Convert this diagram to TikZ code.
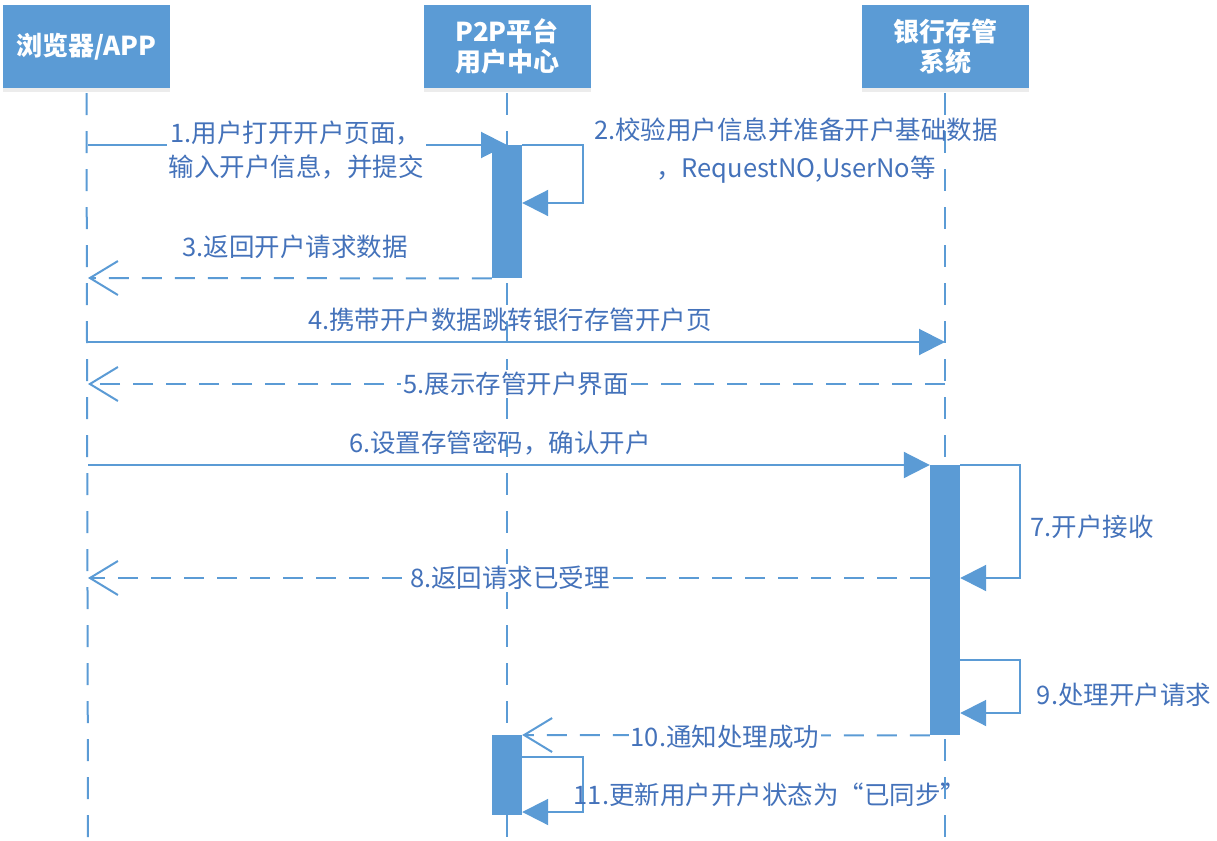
\documentclass[tikz,border=0pt]{standalone}
\usepackage{fontspec}
\setmainfont{Noto Sans CJK SC}
\usetikzlibrary{arrows.meta,shadows}
\definecolor{boxblue}{RGB}{91,155,213}
\definecolor{txtblue}{RGB}{68,114,186}
\begin{document}
\begin{tikzpicture}[x=1pt,y=-1pt,
  hdr/.style={fill=boxblue, text=white, font=\bfseries\fontsize{26}{30}\selectfont, minimum width=167pt, minimum height=83pt, align=center, inner sep=0pt, drop shadow={opacity=0.15, shadow xshift=0pt, shadow yshift=-4pt}},
  life/.style={draw=boxblue, line width=2pt, dash pattern=on 22pt off 16pt},
  act/.style={fill=boxblue, draw=none, minimum width=30pt, inner sep=0pt, anchor=north},
  msg/.style={draw=boxblue, line width=2pt, -{Triangle[length=26pt,width=26pt]}},
  ret/.style={draw=boxblue, line width=2pt, dash pattern=on 20pt off 13pt, -{Straight Barb[length=28pt,width=34pt]}},
  lbl/.style={text=txtblue, font=\fontsize{25.5}{34}\selectfont, align=center, inner sep=2pt},
  wlbl/.style={lbl, fill=white}
]
\useasboundingbox (0,0) rectangle (1217,840);

% headers
\node[hdr] (h1) at (86.5,46.5) {浏览器/APP};
\node[hdr] (h2) at (507,46.5) {P2P平台\\用户中心};
\node[hdr] (h3) at (945,46.5) {银行存管\\系统};

% lifeline ends
\coordinate (e1) at (88,840);
\coordinate (e2) at (507,840);
\coordinate (e3) at (945,840);
\draw[life] (h1.south) ++(0,5) -- (e1);
\draw[life] (h2.south) ++(0,5) -- (e2);
\draw[life] (h3.south) ++(0,5) -- (e3);

% activation bar anchors
\path (507,145) coordinate (a1top);
\path (945,465) coordinate (a2top);
\path (507,735) coordinate (a3top);

% lifeline points
\coordinate (p1) at (88,145);
\coordinate (p3) at (88,278);
\coordinate (p4s) at (88,342);
\coordinate (p4e) at (945,342);
\coordinate (p5s) at (945,384);
\coordinate (p5e) at (88,384);
\coordinate (p6) at (88,465);
\coordinate (p8) at (88,578);

\node[act, minimum height=133pt] (a1) at (a1top) {};
\node[act, minimum height=270pt] (a2) at (a2top) {};
\node[act, minimum height=80pt] (a3) at (a3top) {};

% messages
\draw[msg] (p1) -- (a1.north);
\draw[msg] (a1.north east) -- ++(61,0) |- (a1.east |- 0,203);
\draw[ret] (a1.south west) -- (p3);
\draw[msg] (p4s) -- (p4e);
\draw[ret] (p5s) -- (p5e);
\draw[msg] (p6) -- (a2.north west);
\draw[msg] (a2.north east) -- ++(60,0) |- (a2.east |- 0,578);
\draw[ret] (a2.west |- 0,578) -- (p8);
\draw[msg] (a2.east |- 0,660) -- ++(60,0) |- (a2.east |- 0,713);
\draw[ret] (a2.south west) -- (a3.north east);
\draw[msg] (a3.east |- 0,757) -- ++(61,0) |- (a3.east |- 0,812);

% redraw bars on top
\fill[boxblue] (a1.north west) rectangle (a1.south east);
\fill[boxblue] (a2.north west) rectangle (a2.south east);
\fill[boxblue] (a3.north west) rectangle (a3.south east);

% labels
\node[wlbl] (t1) at (296,150) {1.用户打开开户页面，\\输入开户信息，并提交};
\node[lbl, font=\fontsize{25.5}{38}\selectfont] (t2) at (796,151) {2.校验用户信息并准备开户基础数据\\，RequestNO,UserNo等};
\node[lbl] (t3) at (295,247) {3.返回开户请求数据};
\node[lbl] (t4) at (510,320) {4.携带开户数据跳转银行存管开户页};
\node[wlbl] (t5) at (516,384) {5.展示存管开户界面};
\node[lbl] (t6) at (500,443) {6.设置存管密码，确认开户};
\node[lbl] (t7) at (1092,527) {7.开户接收};
\node[wlbl] (t8) at (510,578) {8.返回请求已受理};
\node[lbl] (t9) at (1124,695) {9.处理开户请求};
\node[wlbl] (t10) at (725,737) {10.通知处理成功};
\node[lbl] (t11) at (770,795) {11.更新用户开户状态为“已同步”};
\end{tikzpicture}
\end{document}
